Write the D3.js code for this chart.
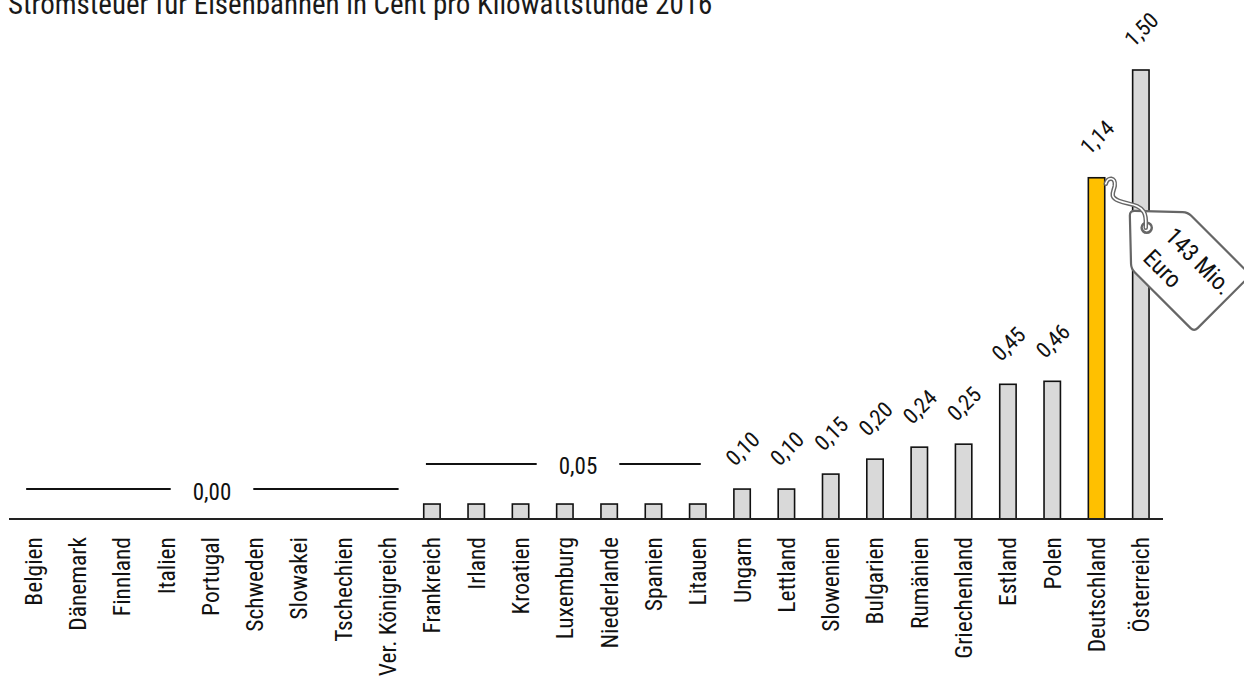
<!DOCTYPE html>
<html>
<head>
<meta charset="utf-8">
<script src="https://cdn.jsdelivr.net/npm/d3@7"></script>
<style>
  body { margin: 0; background: #fff; }
  svg { display: block; }
</style>
</head>
<body>
<svg id="chart"></svg>
<script>
const width = 1244, height = 679;

const title = 'Stromsteuer für Eisenbahnen in Cent pro Kilowattstunde 2016';
const countries = ['Belgien', 'Dänemark', 'Finnland', 'Italien', 'Portugal', 'Schweden', 'Slowakei',
  'Tschechien', 'Ver. Königreich', 'Frankreich', 'Irland', 'Kroatien', 'Luxemburg', 'Niederlande',
  'Spanien', 'Litauen', 'Ungarn', 'Lettland', 'Slowenien', 'Bulgarien', 'Rumänien', 'Griechenland',
  'Estland', 'Polen', 'Deutschland', 'Österreich'];
const values = [0, 0, 0, 0, 0, 0, 0, 0, 0, 0.05, 0.05, 0.05, 0.05, 0.05, 0.05, 0.05,
  0.10, 0.10, 0.15, 0.20, 0.24, 0.25, 0.45, 0.46, 1.14, 1.50];
const highlight = 'Deutschland';
// shared value labels for runs of equal values
const groups = [
  { label: '0,00', from: 'Belgien', to: 'Ver. Königreich', value: 0 },
  { label: '0,05', from: 'Frankreich', to: 'Litauen', value: 0.05 },
];
const tagLines = ['143 Mio.', 'Euro'];

const data = countries.map((c, i) => ({ country: c, value: values[i] }));

// condensed font if there is one, otherwise squeeze Roboto a little
function hasFont(name) {
  const ctx = document.createElement('canvas').getContext('2d');
  const probe = 'Kilowattstunde 0,45 Österreich';
  ctx.font = '40px monospace';
  const w0 = ctx.measureText(probe).width;
  ctx.font = `40px "${name}", monospace`;
  return ctx.measureText(probe).width !== w0;
}
const condensed = hasFont('Roboto Condensed');
const fontFamily = condensed ? '"Roboto Condensed", Roboto, sans-serif' : 'Roboto, sans-serif';
const squeeze = condensed ? 1 : 0.87;
const fmt = (v) => d3.format('.2f')(v).replace('.', ',');

const svg = d3.select('#chart')
  .attr('width', width)
  .attr('height', height)
  .style('font-family', fontFamily);

const baseY = 519;
const x = d3.scaleBand()
  .domain(countries)
  .range([11, 1163])
  .paddingInner(0.63)
  .paddingOuter(0.315);
const y = d3.scaleLinear().domain([0, 1.5]).range([baseY, 70]);
const cx = (c) => x(c) + x.bandwidth() / 2;

svg.append('text')
  .attr('transform', `translate(8,14) scale(${squeeze},1)`)
  .attr('font-size', 29)
  .attr('fill', '#1a1a1a')
  .text(title);

// bars
svg.append('g')
  .selectAll('rect')
  .data(data.filter((d) => d.value > 0))
  .join('rect')
  .attr('x', (d) => x(d.country))
  .attr('y', (d) => y(d.value))
  .attr('width', x.bandwidth())
  .attr('height', (d) => baseY - y(d.value))
  .attr('fill', (d) => (d.country === highlight ? '#ffc000' : '#d9d9d9'))
  .attr('stroke', '#111')
  .attr('stroke-width', 1.6);

// axis with rotated country names
const axis = svg.append('g')
  .attr('transform', `translate(0,${baseY})`)
  .call(d3.axisBottom(x).tickSize(0).tickSizeOuter(0));
axis.select('.domain').attr('stroke', '#222').attr('stroke-width', 2).attr('d', 'M9,0H1163');
axis.selectAll('.tick text')
  .attr('x', 0)
  .attr('y', 0)
  .attr('dy', '0.36em')
  .attr('text-anchor', 'end')
  .attr('transform', `translate(0,18) rotate(-90) scale(${squeeze},1)`)
  .attr('font-size', 23.5)
  .attr('font-family', fontFamily)
  .attr('fill', '#111');

// single value labels, rotated
const grouped = new Set();
groups.forEach((g) => {
  const i0 = countries.indexOf(g.from), i1 = countries.indexOf(g.to);
  countries.slice(i0, i1 + 1).forEach((c) => grouped.add(c));
});
svg.append('g')
  .selectAll('text')
  .data(data.filter((d) => !grouped.has(d.country)))
  .join('text')
  .attr('transform', (d) => `translate(${cx(d.country) - 7},${y(d.value) - 22}) rotate(-45) scale(${squeeze},1)`)
  .attr('font-size', 22)
  .attr('fill', '#111')
  .text((d) => fmt(d.value));

// group labels with lines either side
const groupPos = [
  { left: -7, right: 11, textX: 212, textY: 500, lineY: 489 },
  { left: -6, right: 3, textX: 578, textY: 474, lineY: 464 },
];
groups.forEach((g, i) => {
  const p = groupPos[i];
  const gg = svg.append('g');
  const t = gg.append('text')
    .attr('transform', `translate(${p.textX},${p.textY}) scale(${squeeze},1)`)
    .attr('text-anchor', 'middle')
    .attr('font-size', 23)
    .attr('fill', '#111')
    .text(g.label);
  const half = t.node().getComputedTextLength() * squeeze / 2;
  const gap = 22;
  const x0 = cx(g.from) + p.left, x1 = cx(g.to) + p.right;
  [[x0, p.textX - half - gap], [p.textX + half + gap, x1]].forEach(([a, b]) => {
    gg.append('line')
      .attr('x1', a).attr('x2', b)
      .attr('y1', p.lineY).attr('y2', p.lineY)
      .attr('stroke', '#111')
      .attr('stroke-width', 2);
  });
});

// price tag hanging from the highlighted bar
const bx = x(highlight) + x.bandwidth(), by = y(values[countries.indexOf(highlight)]);

function roundedPolygon(pts, r) {
  const n = pts.length;
  let d = '';
  pts.forEach((p, i) => {
    const prev = pts[(i - 1 + n) % n], next = pts[(i + 1) % n];
    const v1 = [prev[0] - p[0], prev[1] - p[1]], v2 = [next[0] - p[0], next[1] - p[1]];
    const l1 = Math.hypot(...v1), l2 = Math.hypot(...v2);
    const a = [p[0] + v1[0] / l1 * r, p[1] + v1[1] / l1 * r];
    const b = [p[0] + v2[0] / l2 * r, p[1] + v2[1] / l2 * r];
    d += (i === 0 ? 'M' : 'L') + a[0] + ',' + a[1] + 'Q' + p[0] + ',' + p[1] + ' ' + b[0] + ',' + b[1];
  });
  return d + 'Z';
}

const tag = svg.append('g')
  .attr('transform', `translate(${bx + 25},${by + 33}) rotate(45)`);
tag.append('path')
  .attr('d', roundedPolygon([[0, 0], [42, -40], [131, -40], [131, 40], [42, 40]], 5))
  .attr('fill', '#fff')
  .attr('stroke', '#666')
  .attr('stroke-width', 2.2)
  .attr('stroke-linejoin', 'round');
tag.append('circle')
  .attr('cx', 24).attr('cy', 0).attr('r', 5)
  .attr('fill', '#fff')
  .attr('stroke', '#666')
  .attr('stroke-width', 2.6);
tag.selectAll('text.tag')
  .data(tagLines)
  .join('text')
  .attr('class', 'tag')
  .attr('transform', (d, i) => `translate(43,${i === 0 ? -5 : 26}) scale(${squeeze},1)`)
  .attr('font-size', 24)
  .attr('fill', '#111')
  .text((d) => d);

const stringPath = `M${bx + 1},${by + 6} C${bx + 3},${by - 1} ${bx + 11},${by - 1} ${bx + 10},${by + 8}`
  + ` C${bx + 9},${by + 14} ${bx + 4},${by + 19} ${bx + 14},${by + 23}`
  + ` C${bx + 24},${by + 27} ${bx + 34},${by + 26} ${bx + 39},${by + 34}`
  + ` C${bx + 42},${by + 39} ${bx + 41},${by + 46} ${bx + 41},${by + 50}`;
svg.append('path')
  .attr('d', stringPath)
  .attr('fill', 'none')
  .attr('stroke', '#666')
  .attr('stroke-width', 4.5)
  .attr('stroke-linecap', 'round');
svg.append('path')
  .attr('d', stringPath)
  .attr('fill', 'none')
  .attr('stroke', '#fff')
  .attr('stroke-width', 1.6)
  .attr('stroke-linecap', 'round');
</script>
</body>
</html>
